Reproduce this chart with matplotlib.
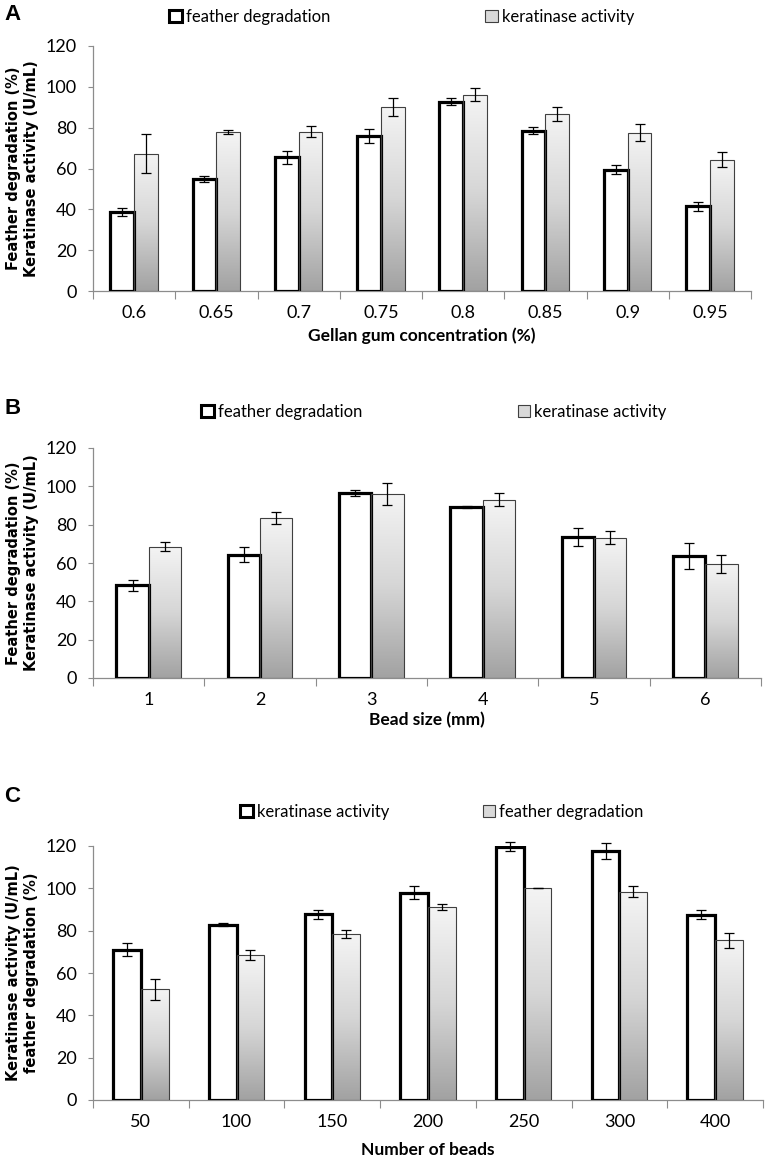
import numpy as np
import matplotlib
matplotlib.use('Agg')
import matplotlib.pyplot as plt
import matplotlib.transforms as mtransforms
from matplotlib.patches import Patch
from matplotlib.colors import LinearSegmentedColormap

plt.rcParams['font.family'] = 'Lato'

# panel A - gellan gum concentration
conc = ['0.6', '0.65', '0.7', '0.75', '0.8', '0.85', '0.9', '0.95']
a_feather = [38.7, 54.8, 65.5, 75.9, 92.8, 78.5, 59.5, 41.5]
a_feather_err = [2.1, 1.5, 3.3, 3.4, 1.7, 1.6, 2.1, 2.1]
a_kera = [67.2, 77.7, 78.0, 90.2, 96.1, 86.7, 77.6, 64.2]
a_kera_err = [9.6, 1.0, 2.8, 4.5, 3.2, 3.5, 4.0, 3.7]

# panel B - bead size
sizes = ['1', '2', '3', '4', '5', '6']
b_feather = [48.4, 64.4, 96.6, 89.2, 73.7, 63.7]
b_feather_err = [2.8, 4.0, 1.5, 0.7, 4.6, 6.6]
b_kera = [68.5, 83.5, 96.2, 93.0, 73.3, 59.6]
b_kera_err = [2.4, 3.3, 5.8, 3.3, 3.4, 4.6]

# panel C - number of beads
beads = ['50', '100', '150', '200', '250', '300', '400']
c_kera = [71.1, 82.8, 87.7, 98.0, 119.7, 117.5, 87.5]
c_kera_err = [3.0, 0.8, 2.1, 2.9, 2.0, 3.7, 2.2]
c_feather = [52.4, 68.5, 78.3, 91.0, 100.1, 98.5, 75.5]
c_feather_err = [5.0, 2.2, 2.0, 1.4, 0.0, 2.4, 3.6]

W, H = 767, 1165
fig = plt.figure(figsize=(W / 100, H / 100), dpi=100)

grey_cmap = LinearSegmentedColormap.from_list('g', ['#a2a2a2', '#d6d6d6', '#f4f4f4'])
grad = np.linspace(0, 1, 200).reshape(-1, 1)
axis_col = '#8c8c8c'


def panel(top_px, bot_px, right_px, letter, letter_y, labels, white, white_err,
          grey, grey_err, names, xlabel, ylabel, xlabelpad, leg_x, leg_y, colsp):
    ax = fig.add_axes([93 / W, 1 - bot_px / H, (right_px - 93) / W,
                       (bot_px - top_px) / H])
    n = len(labels)
    x = np.arange(n)
    w = 0.29
    ax.bar(x - w / 2, white, w, color='white', edgecolor='black',
           linewidth=2.3, zorder=3)
    b2 = ax.bar(x + w / 2, grey, w, facecolor='none', edgecolor='#404040',
                linewidth=0.8, zorder=3)
    # grey bars get a vertical gradient, light at top, dark at bottom
    for p in b2.patches:
        x0 = p.get_x()
        im = ax.imshow(grad, cmap=grey_cmap, origin='lower', aspect='auto',
                       extent=[x0, x0 + p.get_width(), 0, p.get_height()],
                       zorder=2)
        im.set_clip_path(p)
    ax.errorbar(x - w / 2, white, yerr=white_err, fmt='none', ecolor='black',
                elinewidth=0.9, capsize=3.5, capthick=0.9, zorder=4, clip_on=False)
    ax.errorbar(x + w / 2, grey, yerr=grey_err, fmt='none', ecolor='black',
                elinewidth=0.9, capsize=3.5, capthick=0.9, zorder=4, clip_on=False)

    ax.set_xlim(-0.5, n - 0.5)
    ax.set_ylim(0, 120)
    ax.set_yticks(np.arange(0, 121, 20))
    for s in ['top', 'right']:
        ax.spines[s].set_visible(False)
    for s in ['left', 'bottom']:
        ax.spines[s].set_color(axis_col)
        ax.spines[s].set_linewidth(0.9)
    ax.set_xticks(np.arange(n + 1) - 0.5)
    ax.set_xticklabels([])
    ax.set_xticks(x, minor=True)
    ax.set_xticklabels(labels, minor=True)
    ax.tick_params(axis='x', which='major', length=6, color=axis_col)
    ax.tick_params(axis='x', which='minor', length=0, pad=10, labelsize=13)
    ax.tick_params(axis='y', length=3.5, color=axis_col, labelsize=13, pad=8)

    ax.set_xlabel(xlabel, fontsize=12.5, fontweight='bold', labelpad=xlabelpad)
    ax.set_ylabel(ylabel, fontsize=10.5, fontweight='bold', family='DejaVu Sans',
                  linespacing=1.25, va='center')
    ax.yaxis.set_label_coords(23 / W, 0.5,
                              transform=mtransforms.blended_transform_factory(
                                  fig.transFigure, ax.transAxes))

    fig.text(4 / W, 1 - letter_y / H, letter, fontsize=16,
             fontweight='bold', family='Liberation Sans', va='center')
    handles = [Patch(facecolor='white', edgecolor='black', linewidth=2.2),
               Patch(facecolor='#d9d9d9', edgecolor='#404040', linewidth=0.8)]
    fig.legend(handles, names, loc='center', ncol=2, frameon=False,
               bbox_to_anchor=(leg_x / W, 1 - leg_y / H), fontsize=12,
               handlelength=0.75, handleheight=0.75, handletextpad=0.25,
               columnspacing=colsp)
    return ax


panel(46, 291, 751, 'A', 15, conc, a_feather, a_feather_err, a_kera, a_kera_err,
      ['feather degradation', 'keratinase activity'],
      'Gellan gum concentration (%)',
      'Feather degradation (%)\nKeratinase activity (U/mL)', 5, 402, 17, 9.3)

panel(448, 678, 761, 'B', 409, sizes, b_feather, b_feather_err, b_kera, b_kera_err,
      ['feather degradation', 'keratinase activity'],
      'Bead size (mm)',
      'Feather degradation (%)\nKeratinase activity (U/mL)', 3, 434, 412, 9.3)

panel(846, 1100, 763, 'C', 797, beads, c_kera, c_kera_err, c_feather, c_feather_err,
      ['keratinase activity', 'feather degradation'],
      'Number of beads',
      'Keratinase activity (U/mL)\nfeather degradation (%)', 9, 442, 812, 5.6)

fig.savefig('out.png', dpi=100)
